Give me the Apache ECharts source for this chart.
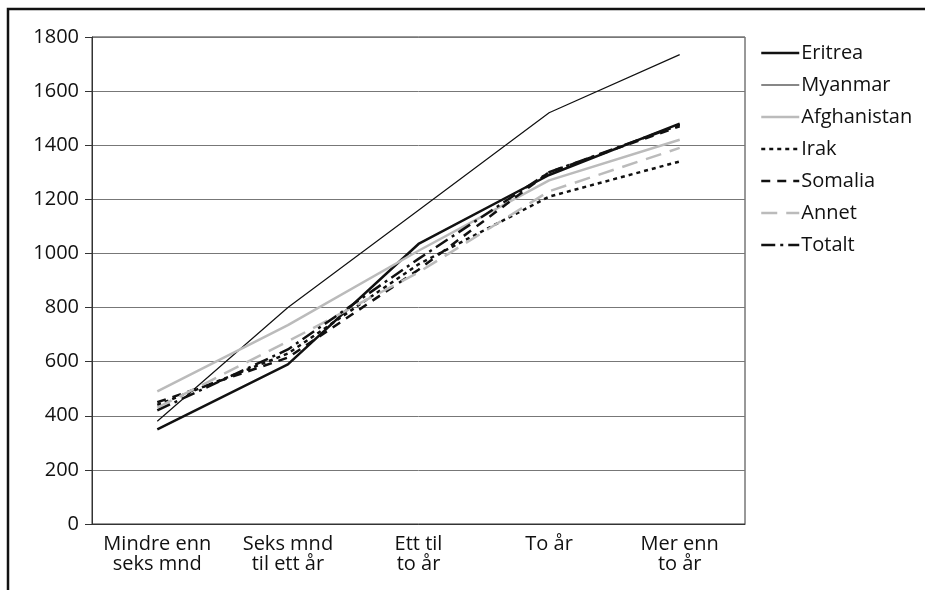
<!DOCTYPE html>
<html><head><meta charset="utf-8">
<script src="https://cdn.jsdelivr.net/npm/echarts@6/dist/echarts.min.js"></script>
<style>html,body{margin:0;padding:0;background:#fff}#c{width:925px;height:590px}</style>
</head><body><div id="c"></div>
<script>
const categories = ['Mindre enn\nseks mnd', 'Seks mnd\ntil ett år', 'Ett til\nto år', 'To år', 'Mer enn\nto år'];
const eritrea     = [350, 590, 1035, 1290, 1480];
const myanmar     = [380, 800, 1160, 1520, 1735];
const afghanistan = [490, 735, 1010, 1270, 1420];
const irak        = [440, 630, 960, 1210, 1340];
const somalia     = [450, 615, 940, 1300, 1470];
const annet       = [430, 675, 930, 1230, 1390];
const totalt      = [420, 645, 980, 1300, 1475];
const seriesNames = ['Eritrea', 'Myanmar', 'Afghanistan', 'Irak', 'Somalia', 'Annet', 'Totalt'];
const yTicks = [0, 200, 400, 600, 800, 1000, 1200, 1400, 1600, 1800];

const FONT = 'Open Sans';
const styles = {
  Eritrea:     { color: '#111', width: 2.5, type: 'solid' },
  Myanmar:     { color: '#111', width: 1.2, type: 'solid' },
  Afghanistan: { color: '#bbb', width: 2.5, type: 'solid' },
  Irak:        { color: '#111', width: 2.5, type: [4, 4] },
  Somalia:     { color: '#111', width: 2.5, type: [9, 7] },
  Annet:       { color: '#bbb', width: 2.5, type: [16, 9] },
  Totalt:      { color: '#111', width: 2.5, type: [14, 5, 3, 5] }
};
const values = { Eritrea: eritrea, Myanmar: myanmar, Afghanistan: afghanistan, Irak: irak, Somalia: somalia, Annet: annet, Totalt: totalt };
const chart = echarts.init(document.getElementById('c'));
chart.setOption({
  animation: false,
  textStyle: { fontFamily: FONT },
  grid: { left: 92, right: 180, top: 37, bottom: 66, show: true, borderColor: '#333', borderWidth: 1 },
  legend: {
    orient: 'vertical', left: 760, top: 43, padding: 0, itemWidth: 38, itemHeight: 14, itemGap: 12,
    itemStyle: { opacity: 0 },
    textStyle: { fontSize: 20, color: '#111', fontFamily: FONT, padding: [0, 0, 0, -3] },
    data: seriesNames.map(n => ({ name: n, lineStyle: { width: styles[n].width } }))
  },
  xAxis: {
    type: 'category', data: categories, boundaryGap: true,
    axisLine: { lineStyle: { color: '#333', width: 1 } },
    axisTick: { show: false },
    axisLabel: { interval: 0, fontSize: 20, color: '#111', lineHeight: 20, margin: 10, fontFamily: FONT }
  },
  yAxis: {
    type: 'value', min: 0, max: 1800, interval: 200,
    axisLine: { show: true, lineStyle: { color: '#333', width: 1 } },
    axisTick: { show: true, length: 7, lineStyle: { color: '#333' } },
    axisLabel: { fontSize: 20, color: '#111', margin: 13, fontFamily: FONT,
      formatter: v => yTicks.includes(v) ? String(v) : '' },
    splitLine: { show: true, lineStyle: { color: '#777', width: 1 } }
  },
  graphic: [{ type: 'rect', shape: { x: 8, y: 9, width: 1200, height: 1000 },
    style: { fill: 'none', stroke: '#111', lineWidth: 2.5 }, silent: true }],
  series: seriesNames.map(n => ({
    name: n, type: 'line', data: values[n], symbol: 'none', smooth: false,
    lineStyle: styles[n], itemStyle: { color: styles[n].color }, z: 3
  }))
});
</script></body></html>
